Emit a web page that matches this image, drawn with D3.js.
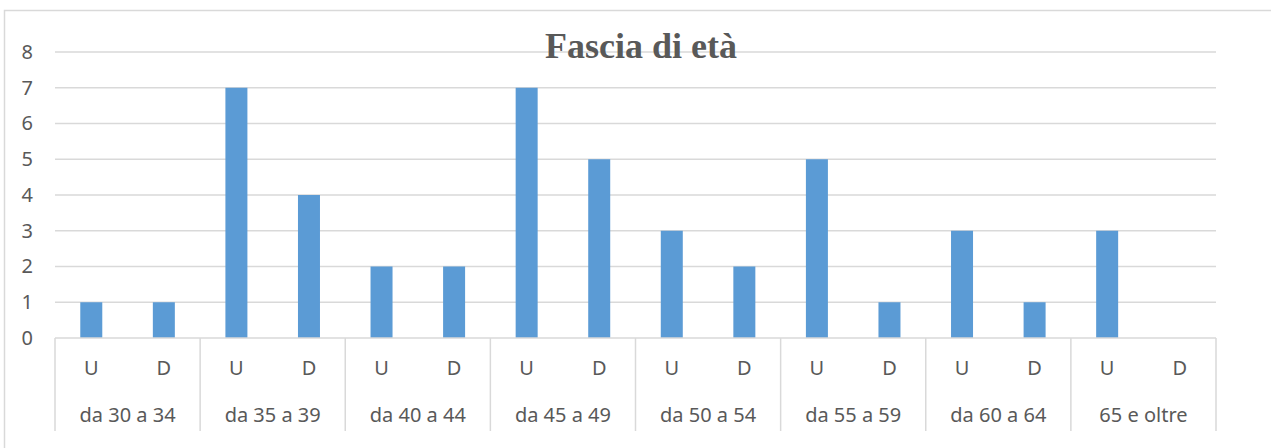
<!DOCTYPE html>
<html>
<head>
<meta charset="utf-8">
<script src="https://cdn.jsdelivr.net/npm/d3@7"></script>
<style>
  body { margin: 0; background: #fff; }
  svg text { font-family: "Noto Sans", sans-serif; fill: #595959; }
</style>
</head>
<body>
<div id="chart"></div>
<script>
// data
var groups = ['da 30 a 34', 'da 35 a 39', 'da 40 a 44', 'da 45 a 49', 'da 50 a 54', 'da 55 a 59', 'da 60 a 64', '65 e oltre'];
var sexes = ['U', 'D'];
var valuesU = [1, 7, 2, 7, 3, 5, 3, 3];
var valuesD = [1, 4, 2, 5, 2, 1, 1, 0];
var yTicks = [0, 1, 2, 3, 4, 5, 6, 7, 8];

var fullWidth = 1271, fullHeight = 448;
var margin = {top: 52, right: 55, bottom: 110, left: 55};
var width = fullWidth - margin.left - margin.right;
var height = fullHeight - margin.top - margin.bottom;

// flatten to one list of bars
var bars = [];
groups.forEach(function(g, i) {
  bars.push({group: g, sex: 'U', value: valuesU[i]});
  bars.push({group: g, sex: 'D', value: valuesD[i]});
});

var svg = d3.select('#chart').append('svg')
  .attr('width', fullWidth)
  .attr('height', fullHeight);

// chart border
svg.append('rect')
  .attr('x', 4.5).attr('y', 10.5)
  .attr('width', fullWidth + 10).attr('height', fullHeight + 10)
  .attr('fill', 'none')
  .attr('stroke', '#d9d9d9')
  .attr('stroke-width', 1.5);

var g = svg.append('g')
  .attr('transform', 'translate(' + margin.left + ',' + margin.top + ')');

var groupScale = d3.scaleBand().domain(groups).range([0, width]);
var barScale = d3.scaleBand().domain(sexes).range([0, groupScale.bandwidth()]);
var y = d3.scaleLinear().domain([0, 8]).range([height, 0]);
var barWidth = 22;

// gridlines
g.append('g').selectAll('line')
  .data(yTicks.filter(function(d) { return d > 0; }))
  .enter().append('line')
    .attr('x1', 0).attr('x2', width)
    .attr('y1', function(d) { return y(d); })
    .attr('y2', function(d) { return y(d); })
    .attr('stroke', '#d9d9d9')
    .attr('stroke-width', 1.5);

// y labels
var yAxis = d3.axisLeft(y).tickValues(yTicks).tickSize(0).tickPadding(22);
var yAxisG = g.append('g').call(yAxis);
yAxisG.select('.domain').remove();
yAxisG.selectAll('text')
  .style('font-family', '"Noto Sans", sans-serif')
  .style('font-size', '20px').style('fill', '#595959');

// title
svg.append('text')
  .attr('x', 641).attr('y', 58)
  .attr('text-anchor', 'middle')
  .style('font-family', '"Liberation Serif", serif')
  .style('font-weight', 'bold')
  .style('font-size', '36px')
  .text('Fascia di età');

// bars
g.append('g').selectAll('rect')
  .data(bars)
  .enter().append('rect')
    .attr('x', function(d) { return groupScale(d.group) + barScale(d.sex) + barScale.bandwidth() / 2 - barWidth / 2; })
    .attr('y', function(d) { return y(d.value); })
    .attr('width', barWidth)
    .attr('height', function(d) { return height - y(d.value); })
    .attr('fill', '#5b9bd5');

// category axis (two levels)
var axisG = g.append('g').attr('transform', 'translate(0,' + height + ')');
axisG.append('line')
  .attr('x1', 0).attr('x2', width)
  .attr('stroke', '#d9d9d9').attr('stroke-width', 1.5);
axisG.selectAll('line.div')
  .data(groups.concat(['end']))
  .enter().append('line')
    .attr('class', 'div')
    .attr('x1', function(d) { return d === 'end' ? width : groupScale(d); })
    .attr('x2', function(d) { return d === 'end' ? width : groupScale(d); })
    .attr('y1', 0).attr('y2', 93)
    .attr('stroke', '#d9d9d9').attr('stroke-width', 1.5);
axisG.selectAll('text.sex')
  .data(bars)
  .enter().append('text')
    .attr('class', 'sex')
    .attr('x', function(d) { return groupScale(d.group) + barScale(d.sex) + barScale.bandwidth() / 2; })
    .attr('y', 37)
    .attr('text-anchor', 'middle')
    .style('font-size', '20px')
    .text(function(d) { return d.sex; });
axisG.selectAll('text.grp')
  .data(groups)
  .enter().append('text')
    .attr('class', 'grp')
    .attr('x', function(d) { return groupScale(d) + groupScale.bandwidth() / 2; })
    .attr('y', 84)
    .attr('text-anchor', 'middle')
    .style('font-size', '20px')
    .text(function(d) { return d; });
</script>
</body>
</html>
